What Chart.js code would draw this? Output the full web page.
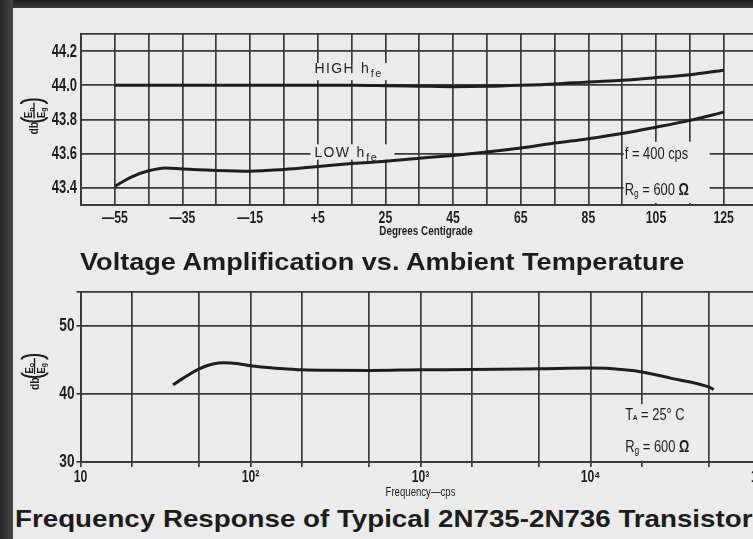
<!DOCTYPE html>
<html>
<head>
<meta charset="utf-8">
<script src="https://cdn.jsdelivr.net/npm/chart.js@4"></script>
<style>
  html, body { margin: 0; padding: 0; }
  body { width: 753px; height: 539px; overflow: hidden; position: relative; background: #ebebeb;
         font-family: "Liberation Sans", Arial, sans-serif; }
  #edgeTop { position: absolute; left: 0; top: 0; width: 753px; height: 8px; background: linear-gradient(#1c1c1c, #3a3a3a); }
  #edgeLeft { position: absolute; left: 0; top: 0; width: 13px; height: 539px; background: linear-gradient(90deg, #262626, #474747); }
  canvas { position: absolute; left: 0; }
  #tempChart { top: 0; }
  #freqChart { top: 260px; }
  .title { position: absolute; white-space: nowrap; font-weight: bold; font-size: 24px; line-height: 24px; color: #1c1c1c;
           transform: scaleX(1.13); transform-origin: 0 50%; }
  #title1 { left: 80px; top: 250px; }
  #title2 { left: 15px; top: 507px; transform: scaleX(1.155); }
</style>
</head>
<body>
<div id="edgeTop"></div>
<div id="edgeLeft"></div>
<canvas id="tempChart" width="790" height="250"></canvas>
<canvas id="freqChart" width="800" height="240"></canvas>
<div class="title" id="title1">Voltage Amplification vs. Ambient Temperature</div>
<div class="title" id="title2">Frequency Response of Typical 2N735-2N736 Transistors</div>
<script>
// ---- Voltage amplification vs. ambient temperature (f = 400 cps, Rg = 600 ohm) ----
const tempC      = [-55, -50, -45, -40, -35, -25, -15, -5, 5, 15, 25, 35, 45, 55, 65, 75, 85, 95, 105, 115, 125];
const highHfeDb  = [44.0, 44.0, 44.0, 44.0, 44.0, 44.0, 44.0, 44.0, 44.0, 44.0, 43.998, 43.995, 43.992, 43.994, 44.0, 44.008, 44.02, 44.03, 44.045, 44.062, 44.088];
const lowHfeDb   = [43.41, 43.465, 43.5, 43.517, 43.51, 43.502, 43.498, 43.508, 43.525, 43.542, 43.556, 43.573, 43.59, 43.61, 43.633, 43.662, 43.688, 43.718, 43.755, 43.795, 43.843];
const tempTicks      = [-55, -35, -15, 5, 25, 45, 65, 85, 105, 125];
const tempTickLabels = ['\u201455', '\u201435', '\u201415', '+5', '25', '45', '65', '85', '105', '125'];
const tempGainTicks  = [43.4, 43.6, 43.8, 44.0, 44.2];

// ---- Frequency response (TA = 25 C, Rg = 600 ohm) ----
const freqCps    = [35, 40, 50, 60, 70, 85, 100, 150, 200, 300, 500, 1000, 2000, 5000, 10000, 13000, 20000, 30000, 50000, 53000];
const freqGainDb = [41.35, 42.3, 43.7, 44.4, 44.6, 44.45, 44.15, 43.75, 43.55, 43.48, 43.47, 43.55, 43.6, 43.72, 43.82, 43.75, 43.25, 42.3, 41.0, 40.65];
const freqTicks      = [10, 100, 1000, 10000, 100000];
const freqTickLabels = ['10', '10\u00b2', '10\u00b3', '10\u2074', '10\u2075'];
const freqGridTicks  = [10, 20, 50, 100, 200, 500, 1000, 2000, 5000, 10000, 20000, 50000, 100000];
const freqGainTicks  = [30, 40, 50];

const ink = '#1e1e1e';
const gridInk = '#3a3a3a';
const paper = '#ebebeb';
const sans = '"Liberation Sans", Arial, sans-serif';

// Horizontally condensed text (the sheet uses a narrow face)
function condensed(ctx, text, x, y, font, sx, align) {
  ctx.save();
  ctx.translate(x, y);
  ctx.scale(sx, 1);
  ctx.font = font;
  ctx.textAlign = align || 'left';
  ctx.fillText(text, 0, 0);
  ctx.restore();
}
// Condensed text runs with subscripts: parts = [[text, font, dy], ...]
function condensedRuns(ctx, x, y, sx, parts) {
  ctx.save();
  ctx.translate(x, y);
  ctx.scale(sx, 1);
  ctx.textAlign = 'left';
  let cx = 0;
  for (const [t, font, dy] of parts) {
    ctx.font = font;
    ctx.fillText(t, cx, dy);
    cx += ctx.measureText(t).width;
  }
  ctx.restore();
}
function drawSpaced(ctx, text, x, y, font, gap) {
  ctx.font = font;
  for (const ch of text) { ctx.fillText(ch, x, y); x += ctx.measureText(ch).width + gap; }
  return x;
}
// Rotated axis caption: db (Eo / Eg)
function drawDbCaption(ctx, cx, cy) {
  ctx.save();
  ctx.translate(cx, cy);
  ctx.rotate(-Math.PI / 2);
  ctx.fillStyle = ink; ctx.strokeStyle = ink;
  ctx.textBaseline = 'middle';
  condensed(ctx, 'db', -18, 0.5, 'bold 13px ' + sans, 0.8, 'left');
  const g0 = -5, g1 = 17;
  ctx.lineWidth = 2;
  ctx.beginPath(); ctx.ellipse(g0 + 4.5, 0, 4.5, 13, 0, Math.PI / 2, 3 * Math.PI / 2); ctx.stroke();
  ctx.beginPath(); ctx.ellipse(g1 - 4.5, 0, 4.5, 13, 0, -Math.PI / 2, Math.PI / 2); ctx.stroke();
  ctx.lineWidth = 1.4;
  ctx.beginPath(); ctx.moveTo(g0 + 3, 0); ctx.lineTo(g1 - 3, 0); ctx.stroke();
  ctx.textBaseline = 'alphabetic';
  condensedRuns(ctx, g0 + 3.5, -2, 0.85, [['E', 'bold 11px ' + sans, 0], ['o', 'bold 8px ' + sans, 1.5]]);
  condensedRuns(ctx, g0 + 3.5, 10.5, 0.85, [['E', 'bold 11px ' + sans, 0], ['g', 'bold 8px ' + sans, 1]]);
  ctx.restore();
}
function clearBox(ctx, x0, y0, x1, y1) {
  ctx.fillStyle = paper;
  ctx.fillRect(x0, y0, x1 - x0, y1 - y0);
}
// Tick labels, placed from the chart's own scales
function drawTickLabels(chart, xVals, xLabels, xOffset, xFont, yVals, yLabels, yOffset, yFont, sx) {
  const { ctx, scales: { x, y }, chartArea } = chart;
  ctx.save();
  ctx.fillStyle = ink;
  ctx.textBaseline = 'middle';
  xVals.forEach((v, i) => condensed(ctx, xLabels[i], x.getPixelForValue(v), chartArea.bottom + xOffset, xFont, sx, 'center'));
  yVals.forEach((v, i) => condensed(ctx, yLabels[i], chartArea.left - yOffset, y.getPixelForValue(v) + 0.5, yFont, sx, 'right'));
  ctx.restore();
}
// "HIGH hfe" / "LOW hfe" style curve tag
function curveTag(ctx, word, x, y) {
  const hx = drawSpaced(ctx, word, x, y, '14px ' + sans, 1.4);
  const fx = drawSpaced(ctx, 'h', hx + 6, y, '14px ' + sans, 0);
  drawSpaced(ctx, 'fe', fx + 2, y + 4, '11px ' + sans, 1.5);
}

const tempNotes = {
  id: 'tempNotes',
  beforeDatasetsDraw(chart) {
    const { ctx, scales: { x, y }, chartArea } = chart;
    ctx.save();
    // curve labels
    const lx = x.getPixelForValue(4);
    clearBox(ctx, lx - 3, y.getPixelForValue(44.13), lx + 84, y.getPixelForValue(44.03));
    clearBox(ctx, lx - 4, y.getPixelForValue(43.655), lx + 80, y.getPixelForValue(43.565));
    ctx.fillStyle = ink; ctx.textAlign = 'left'; ctx.textBaseline = 'alphabetic';
    curveTag(ctx, 'HIGH', lx, y.getPixelForValue(44.07));
    curveTag(ctx, 'LOW', lx, y.getPixelForValue(43.582));
    // test conditions
    const nx = x.getPixelForValue(95) + 1.5;
    clearBox(ctx, nx, y.getPixelForValue(43.67), nx + 86, chartArea.bottom - 2);
    ctx.fillStyle = ink; ctx.textBaseline = 'middle';
    condensedRuns(ctx, nx + 1, y.getPixelForValue(43.6) + 1, 0.76, [['f = 400 cps', '17px ' + sans, 0]]);
    condensedRuns(ctx, nx + 1, y.getPixelForValue(43.4) + 2, 0.76,
      [['R', '17px ' + sans, 0], ['g', '11px ' + sans, 4], [' = 600 ', '17px ' + sans, 0], ['\u03a9', 'bold 17px ' + sans, 0]]);
    ctx.restore();
  },
  afterDraw(chart) {
    const { ctx, scales: { x }, chartArea } = chart;
    drawTickLabels(chart, tempTicks, tempTickLabels, 13, 'bold 17px ' + sans,
                   tempGainTicks, tempGainTicks.map(v => v.toFixed(1)), 4, 'bold 18px ' + sans, 0.72);
    ctx.save();
    ctx.fillStyle = ink; ctx.textBaseline = 'middle';
    condensed(ctx, 'Degrees Centigrade', x.getPixelForValue(37), chartArea.bottom + 26, 'bold 13px ' + sans, 0.76, 'center');
    drawDbCaption(ctx, chartArea.left - 47, (chartArea.top + chartArea.bottom) / 2 - 3);
    ctx.restore();
  }
};

const freqNotes = {
  id: 'freqNotes',
  beforeDatasetsDraw(chart) {
    const { ctx, scales: { x, y } } = chart;
    ctx.save();
    const nx = x.getPixelForValue(16000);
    clearBox(ctx, nx - 3, y.getPixelForValue(38.5), nx + 78, y.getPixelForValue(30.2));
    ctx.fillStyle = ink; ctx.textBaseline = 'middle';
    condensedRuns(ctx, nx, y.getPixelForValue(36.9), 0.76,
      [['T', '17px ' + sans, 0], ['A', 'bold 8px ' + sans, 3], [' = 25\u00b0 C', '17px ' + sans, 0]]);
    condensedRuns(ctx, nx, y.getPixelForValue(32.2), 0.76,
      [['R', '17px ' + sans, 0], ['g', '11px ' + sans, 4], [' = 600 ', '17px ' + sans, 0], ['\u03a9', 'bold 17px ' + sans, 0]]);
    ctx.restore();
  },
  afterDraw(chart) {
    const { ctx, scales: { x }, chartArea } = chart;
    drawTickLabels(chart, freqTicks, freqTickLabels, 16, 'bold 16px ' + sans,
                   freqGainTicks, freqGainTicks.map(String), 6, 'bold 18px ' + sans, 0.76);
    ctx.save();
    ctx.fillStyle = ink; ctx.textBaseline = 'middle';
    condensed(ctx, 'Frequency\u2014cps', x.getPixelForValue(1000), chartArea.bottom + 31, '12px ' + sans, 0.8, 'center');
    drawDbCaption(ctx, chartArea.left - 46, (chartArea.top + chartArea.bottom) / 2 - 5);
    ctx.restore();
  }
};

const curveStyle = { borderColor: ink, borderWidth: 3, pointRadius: 0, fill: false,
                     tension: 0.4, cubicInterpolationMode: 'monotone' };

new Chart(document.getElementById('tempChart'), {
  type: 'line',
  data: {
    datasets: [
      { label: 'HIGH hfe', data: tempC.map((t, i) => ({ x: t, y: highHfeDb[i] })), ...curveStyle },
      { label: 'LOW hfe',  data: tempC.map((t, i) => ({ x: t, y: lowHfeDb[i] })),  ...curveStyle }
    ]
  },
  options: {
    responsive: false, animation: false, devicePixelRatio: 1,
    layout: { padding: { top: 34, right: 32.5, left: 0, bottom: 0 } },
    plugins: { legend: { display: false }, tooltip: { enabled: false } },
    scales: {
      x: {
        type: 'linear', min: -65, max: 135,
        afterBuildTicks: s => { s.ticks = []; for (let v = -65; v <= 135; v += 10) s.ticks.push({ value: v }); },
        afterFit: s => { s.height = 45; },
        grid: { color: gridInk, lineWidth: 1.7, drawTicks: false },
        border: { color: gridInk, width: 2 },
        ticks: { display: false }
      },
      y: {
        min: 43.3, max: 44.3,
        afterBuildTicks: s => { s.ticks = [43.3, ...tempGainTicks, 44.3].map(v => ({ value: v })); },
        afterFit: s => { s.width = 81; },
        grid: { color: gridInk, lineWidth: 1.7, drawTicks: false },
        border: { color: gridInk, width: 2 },
        ticks: { display: false }
      }
    }
  },
  plugins: [tempNotes]
});

new Chart(document.getElementById('freqChart'), {
  type: 'line',
  data: {
    datasets: [
      { label: 'Gain', data: freqCps.map((f, i) => ({ x: f, y: freqGainDb[i] })), ...curveStyle }
    ]
  },
  options: {
    responsive: false, animation: false, devicePixelRatio: 1,
    layout: { padding: { top: 32, right: 39.5, left: 0, bottom: 0 } },
    plugins: { legend: { display: false }, tooltip: { enabled: false } },
    scales: {
      x: {
        type: 'logarithmic', min: 10, max: 100000,
        afterBuildTicks: s => { s.ticks = freqGridTicks.map(v => ({ value: v })); },
        afterFit: s => { s.height = 38; },
        grid: { color: gridInk, lineWidth: 1.7, drawTicks: true, tickLength: 5 },
        border: { color: gridInk, width: 2 },
        ticks: { display: false }
      },
      y: {
        min: 30, max: 55,
        afterBuildTicks: s => { s.ticks = [...freqGainTicks, 55].map(v => ({ value: v })); },
        afterFit: s => { s.width = 80.5; },
        grid: { color: gridInk, lineWidth: 1.7, drawTicks: true, tickLength: 4 },
        border: { color: gridInk, width: 2 },
        ticks: { display: false }
      }
    }
  },
  plugins: [freqNotes]
});
</script>
</body>
</html>
